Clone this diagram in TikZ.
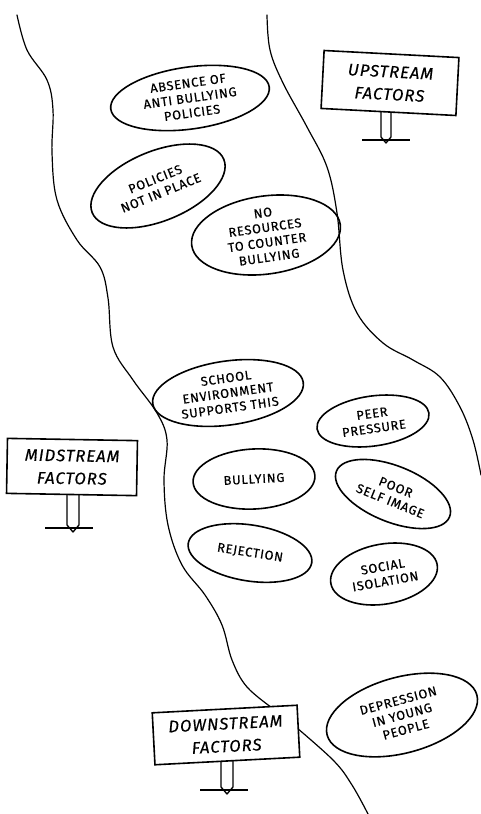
\documentclass[tikz,border=0pt]{standalone}
\usepackage{fontspec}
\setmainfont{Fira Sans}[LetterSpace=6, FakeBold=0.4]
\usetikzlibrary{shapes.geometric}
\newdimen\pxu \pxu=0.75pt
\tikzset{
  bank/.style={line width=0.9pt, line cap=round},
  cloud/.style={ellipse, draw, line width=1.2pt, inner sep=0pt, align=center,
     font=\fontsize{9.6}{11.2}\selectfont},
  board/.style={rectangle, draw, fill=white, line width=1.2pt, align=center,
     font=\fontsize{12.5}{17}\selectfont\itshape},
  post/.style={line width=1pt, line join=round},
  ground/.style={line width=1.1pt}
}
\begin{document}
\begin{tikzpicture}[x=0.75pt,y=-0.75pt]
\useasboundingbox[fill=white] (0,0) rectangle (480,814);
% river banks
\draw[bank] plot[smooth, tension=0.6] coordinates {(17,15) (27,50) (47,80) (53,110) (52,153) (57,200) (77,240) (100,267) (108,298) (113,347) (133,380) (157,413) (167,440) (164,480) (168,525) (182,565) (205,595) (222,625) (232,660) (247,687) (275,710)};
\draw[bank] plot[smooth, tension=0.6] coordinates {(267,15) (270,50) (283,83) (307,127) (327,167) (337,213) (343,270) (357,313) (383,343) (413,360) (440,377) (460,407) (473,440) (481,475)};
\draw[bank] plot[smooth, tension=0.6] coordinates {(290,722) (333,760) (352,785) (368,814)};
% ellipses
\node[cloud, minimum width=160\pxu, minimum height=62\pxu, rotate=8] (absence) at (190,98) {ABSENCE OF\\ANTI BULLYING\\POLICIES};
\node[cloud, minimum width=142\pxu, minimum height=70\pxu, rotate=22] (policies) at (158,186) {POLICIES\\NOT IN PLACE};
\node[cloud, minimum width=150\pxu, minimum height=78\pxu, rotate=8] (resources) at (266,235) {NO\\RESOURCES\\TO COUNTER\\BULLYING};
\node[cloud, minimum width=152\pxu, minimum height=64\pxu, rotate=8] (school) at (228,393) {SCHOOL\\ENVIRONMENT\\SUPPORTS THIS};
\node[cloud, minimum width=113\pxu, minimum height=50\pxu, rotate=8] (peer) at (373,421) {PEER\\PRESSURE};
\node[cloud, minimum width=122\pxu, minimum height=60\pxu, rotate=3] (bullying) at (254,479) {BULLYING};
\node[cloud, minimum width=122\pxu, minimum height=56\pxu, rotate=-22] (selfimage) at (393,494) {POOR\\SELF IMAGE};
\node[cloud, minimum width=125\pxu, minimum height=56\pxu, rotate=-9] (rejection) at (250,553) {REJECTION};
\node[cloud, minimum width=108\pxu, minimum height=60\pxu, rotate=10] (isolation) at (384,574) {SOCIAL\\ISOLATION};
\node[cloud, minimum width=155\pxu, minimum height=76\pxu, rotate=15] (depression) at (402,715) {DEPRESSION\\IN YOUNG\\PEOPLE};
% upstream sign
\draw[post] (381,110) -- (381,137) -- (386,143) -- (391,137) -- (391,110);
\draw[ground] (362,140) -- (410,140);
\node[board, minimum width=135\pxu, minimum height=58\pxu, rotate=-3] (up) at (390,83) {UPSTREAM\\FACTORS};
% midstream sign
\draw[post] (67,493) -- (67,525) -- (73,532) -- (79,525) -- (79,493);
\draw[ground] (45,528) -- (93,528);
\node[board, minimum width=130\pxu, minimum height=55\pxu, rotate=-1] (mid) at (72,467) {MIDSTREAM\\FACTORS};
% downstream sign
\draw[post] (221,758) -- (221,787) -- (227,794) -- (233,787) -- (233,758);
\draw[ground] (200,790) -- (248,790);
\node[board, minimum width=145\pxu, minimum height=52\pxu, rotate=3] (down) at (226,735) {DOWNSTREAM\\FACTORS};
\end{tikzpicture}
\end{document}
